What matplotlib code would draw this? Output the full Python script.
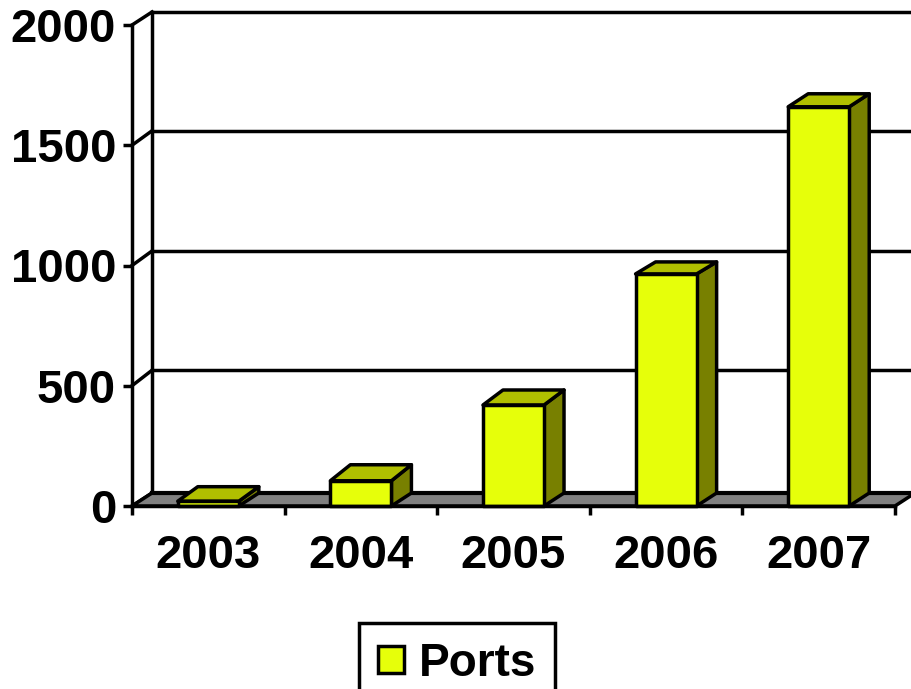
import matplotlib
matplotlib.use("Agg")
import matplotlib.pyplot as plt
from matplotlib.patches import Polygon, Patch

plt.rcParams['font.family'] = ['Liberation Sans', 'DejaVu Sans']
plt.rcParams['font.weight'] = 'bold'

# values
years = ["2003", "2004", "2005", "2006", "2007"]
ports = [20, 105, 420, 965, 1660]
y_ticks = [0, 500, 1000, 1500, 2000]
series_name = "Ports"

FRONT = "#e6ff0a"
TOP = "#b0bf00"
SIDE = "#788000"
FLOOR = "#808080"
LW = 2.5
FS = 34

W, H = 912, 689
fig = plt.figure(figsize=(W / 100, H / 100), dpi=100)
# axes box is the front plane of the fake 3d chart
ax = fig.add_axes([132 / W, 1 - 506 / H, (895 - 132) / W, (506 - 25) / H])
ax.set_xlim(0, len(years))
ax.set_ylim(0, 2000)

# depth of the 3d effect: 20 px right, and px up varies a bit in the original
px_x = (895 - 132) / len(years)
px_y = (506 - 25) / 2000
dx = 20 / px_x
dy = 13 / px_y
wall_up = [13, 15.5, 14.5, 14.5, 13]
bar_up = [14.5, 16, 15, 12, 13]
bar_w = 0.4


def poly(points, color, z):
    ax.add_patch(Polygon(points, closed=True, facecolor=color, edgecolor="black",
                         linewidth=LW, joinstyle="round", clip_on=False, zorder=z))


# floor
n = len(years)
poly([(0, 0), (n, 0), (n + dx, dy), (dx, dy)], FLOOR, 2)

# back wall lines and side wall diagonals
for t, up in zip(y_ticks, wall_up):
    d = up / px_y
    ax.plot([dx, n + dx], [t + d, t + d], color="black", lw=3 if t == 0 else LW,
            clip_on=False, zorder=1 if t else 3)
    ax.plot([0, dx], [t, t + d], color="black", lw=LW, clip_on=False, zorder=1)
ax.plot([dx, dx], [dy, 2000 + dy], color="black", lw=LW, clip_on=False, zorder=1)

# bars
for i, (v, up) in enumerate(zip(ports, bar_up)):
    d = up / px_y
    x0 = i + 0.5 - bar_w / 2
    x1 = i + 0.5 + bar_w / 2
    poly([(x1, 0), (x1 + dx, dy), (x1 + dx, v + d), (x1, v)], SIDE, 4)
    poly([(x0, v), (x1, v), (x1 + dx, v + d), (x0 + dx, v + d)], TOP, 4)
    poly([(x0, 0), (x1, 0), (x1, v), (x0, v)], FRONT, 5)

# axes
for s in ["top", "right"]:
    ax.spines[s].set_visible(False)
for s in ["left", "bottom"]:
    ax.spines[s].set_linewidth(LW)
    ax.spines[s].set_zorder(6)
ax.set_yticks(y_ticks)
ax.set_yticklabels([str(t) for t in y_ticks], fontsize=FS, fontweight="bold")
ax.tick_params(axis="y", length=6.5, width=LW, pad=5)
ax.set_xticks(range(n + 1))
ax.set_xticklabels([])
ax.set_xticks([i + 0.5 for i in range(n)], labels=years, minor=True)
ax.tick_params(axis="x", which="major", length=6.5, width=LW)
ax.tick_params(axis="x", which="minor", length=0, labelsize=FS, pad=20)

# legend, box runs past the bottom of the image as in the original
leg = fig.legend(handles=[Patch(facecolor=FRONT, edgecolor="black", linewidth=LW, label=series_name)],
                 loc="upper left", bbox_to_anchor=(359 / W, 1 - 623 / H), borderaxespad=0,
                 fontsize=33, fancybox=False, framealpha=1, edgecolor="black",
                 handlelength=0.58, handleheight=0.55, handletextpad=0.32,
                 borderpad=0.41)
leg.get_frame().set_linewidth(LW)

fig.savefig("out.png", dpi=100)
